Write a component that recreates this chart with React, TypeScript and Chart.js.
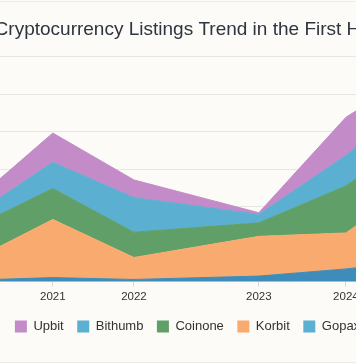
import React, { useEffect, useRef } from 'react';
import { Chart, registerables } from 'chart.js';

Chart.register(...registerables);

// ---- data ----
const periodDates = ['2020-05-16', '2021-04-20', '2022-02-10', '2023-05-12', '2024-03-25', '2025-01-26'];
const exchangeNames = ['Gopax', 'Korbit', 'Coinone', 'Bithumb', 'Upbit'];
const gopaxListings = [0.6, 2.2, 1.2, 3.0, 6.8, 12];
const korbitListings = [7.4, 31.0, 11.7, 21.2, 19.2, 45];
const coinoneListings = [17.5, 16.5, 13.5, 7.2, 25.1, 26];
const bithumbListings = [5.0, 14.0, 18.4, 4.5, 16.2, 22];
const upbitListings = [6.0, 15.6, 9.5, 0.9, 20.4, 11];
const seriesValues = [gopaxListings, korbitListings, coinoneListings, bithumbListings, upbitListings];
const areaColors = ['#3e8cb9', '#f9ab6f', '#60a068', '#5bb0d1', '#c38bc7'];
const legendColors = ['#5bb0d1', '#f9ab6f', '#60a068', '#5bb0d1', '#c38bc7'];
const titleText = 'Cryptocurrency Listings Trend in the First Half';

const BG = '#fcfbf7';
const FONT = "'Liberation Sans', Arial, Helvetica, sans-serif";

export default function App() {
  const ref = useRef<HTMLCanvasElement | null>(null);

  useEffect(() => {
    if (!ref.current) return;
    const xs = periodDates.map((d) => Date.parse(d));
    const datasets = exchangeNames.map((name, i) => ({
      label: name,
      data: xs.map((x, j) => ({ x, y: seriesValues[i][j] })),
      backgroundColor: areaColors[i],
      borderColor: areaColors[i],
      borderWidth: 1,
      pointRadius: 0,
      tension: 0,
      fill: i === 0 ? 'origin' : '-1',
    }));

    const chart = new Chart(ref.current, {
      type: 'line',
      data: { datasets },
      options: {
        animation: false,
        responsive: false,
        layout: { padding: { left: 20, right: 25, top: 0, bottom: 21 } },
        font: { family: FONT },
        plugins: {
          title: {
            display: true,
            text: titleText,
            color: '#2e3440',
            font: { family: FONT, size: 19, weight: 'normal' },
            padding: { top: 18, bottom: 16 },
          },
          legend: {
            position: 'bottom',
            reverse: true,
            labels: {
              boxWidth: 12,
              boxHeight: 12,
              padding: 13.5,
              color: '#333',
              font: { family: FONT, size: 13 },
              generateLabels: (c: any) => {
                const items = Chart.defaults.plugins.legend.labels.generateLabels(c);
                return items.map((it: any) => ({
                  ...it,
                  fillStyle: legendColors[it.datasetIndex],
                  strokeStyle: legendColors[it.datasetIndex],
                  lineWidth: 0,
                }));
              },
            },
          },
          tooltip: { enabled: false },
        },
        scales: {
          x: {
            type: 'linear',
            min: xs[0],
            max: xs[xs.length - 1],
            afterBuildTicks: (axis: any) => {
              axis.ticks = xs.map((v) => ({ value: v }));
            },
            grid: { drawOnChartArea: false, drawTicks: true, tickLength: 5, color: '#d8d8d8' },
            border: { display: false },
            ticks: {
              color: '#333',
              font: { family: FONT, size: 11.5 },
              maxRotation: 0,
              autoSkip: false,
              callback: (v: any) => String(new Date(v).getUTCFullYear()),
            },
          },
          y: {
            stacked: true,
            beginAtZero: true,
            afterFit: (axis: any) => {
              axis.width = 15;
            },
            grid: { color: '#e6e6e6', drawTicks: false },
            border: { display: false },
            ticks: { color: '#333', font: { family: FONT, size: 11 }, padding: 4 },
          },
        },
      },
    });
    return () => chart.destroy();
  }, []);

  return (
    <div style={{ position: 'fixed', left: 0, top: 0, width: 356, height: 364, overflow: 'hidden', background: BG }}>
      <div style={{ position: 'absolute', left: -75, top: 0, width: 530, height: 364 }}>
        <canvas ref={ref} width={530} height={364} style={{ display: 'block' }} />
      </div>
      <div style={{ position: 'absolute', left: 0, top: 1, width: 356, height: 0, borderTop: '1px solid #ececea' }} />
      <div style={{ position: 'absolute', left: 0, top: 362, width: 356, height: 0, borderTop: '1px solid #ececea' }} />
    </div>
  );
}
